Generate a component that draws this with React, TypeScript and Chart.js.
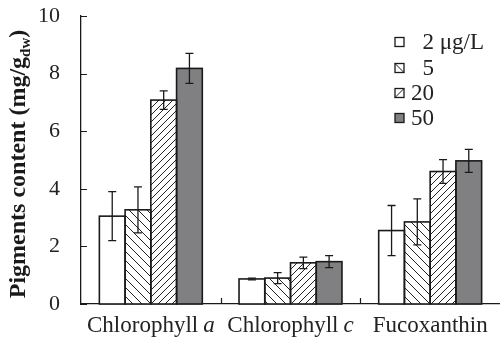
import React, { useEffect, useRef } from "react";
import { Chart, registerables } from "chart.js";

Chart.register(...registerables);

// ---------- data ----------
const categories = ["Chlorophyll a", "Chlorophyll c", "Fucoxanthin"];
const categoryBase = ["Chlorophyll", "Chlorophyll", "Fucoxanthin"];
const categoryItalic = ["a", "c", ""];
const seriesLabels = ["  2 μg/L", "  5", "20", "50"];
const values2 = [3.05, 0.87, 2.55];
const values5 = [3.27, 0.9, 2.85];
const values20 = [7.08, 1.43, 4.6];
const values50 = [8.18, 1.47, 4.97];
const err2 = [0.85, 0.03, 0.87];
const err5 = [0.8, 0.19, 0.8];
const err20 = [0.32, 0.2, 0.41];
const err50 = [0.52, 0.21, 0.4];
const yTicks = [0, 2, 4, 6, 8, 10];
const yTitleMain = "Pigments content (mg/g";
const yTitleSub = "dw";
const yTitleEnd = ")";

const errors = [err2, err5, err20, err50];
const SERIF = "'Liberation Serif', 'Times New Roman', serif";
const GRAY = "rgb(128,128,130)";
const INK = "#1a1a1a";

function makeHatch(size: number, dir: "back" | "fwd"): CanvasPattern | string {
  const c = document.createElement("canvas");
  c.width = size;
  c.height = size;
  const g = c.getContext("2d");
  if (!g) return "#fff";
  g.fillStyle = "#fff";
  g.fillRect(0, 0, size, size);
  g.strokeStyle = "#222";
  g.lineWidth = 1;
  g.beginPath();
  if (dir === "back") {
    g.moveTo(0, 0); g.lineTo(size, size);
    g.moveTo(-2, size - 2); g.lineTo(2, size + 2);
    g.moveTo(size - 2, -2); g.lineTo(size + 2, 2);
  } else {
    g.moveTo(0, size); g.lineTo(size, 0);
    g.moveTo(-2, 2); g.lineTo(2, -2);
    g.moveTo(size - 2, size + 2); g.lineTo(size + 2, size - 2);
  }
  g.stroke();
  const p = g.createPattern(c, "repeat");
  return p || "#fff";
}

const overlayPlugin = {
  id: "overlay",
  afterDatasetsDraw(chart: any) {
    const ctx = chart.ctx as CanvasRenderingContext2D;
    const yScale = chart.scales.y;
    ctx.save();
    chart.data.datasets.forEach((ds: any, di: number) => {
      const meta = chart.getDatasetMeta(di);
      meta.data.forEach((bar: any) => {
        const { x, y, base, width } = bar.getProps(["x", "y", "base", "width"], true);
        ctx.strokeStyle = INK;
        ctx.lineWidth = 1.6;
        ctx.strokeRect(x - width / 2, y, width, base - y);
      });
    });
    chart.data.datasets.forEach((ds: any, di: number) => {
      const meta = chart.getDatasetMeta(di);
      meta.data.forEach((bar: any, i: number) => {
        const { x } = bar.getProps(["x"], true);
        const v = ds.data[i];
        const e = errors[di][i];
        const yT = yScale.getPixelForValue(v + e);
        const yB = yScale.getPixelForValue(v - e);
        ctx.strokeStyle = INK;
        ctx.lineWidth = 1.3;
        ctx.beginPath();
        ctx.moveTo(x, yT); ctx.lineTo(x, yB);
        ctx.moveTo(x - 4, yT); ctx.lineTo(x + 4, yT);
        ctx.moveTo(x - 4, yB); ctx.lineTo(x + 4, yB);
        ctx.stroke();
      });
    });
    ctx.restore();
  },
  afterDraw(chart: any) {
    const ctx = chart.ctx as CanvasRenderingContext2D;
    const { left, bottom } = chart.chartArea;
    const xScale = chart.scales.x;
    const yScale = chart.scales.y;
    ctx.save();
    ctx.strokeStyle = INK;
    ctx.lineWidth = 1.2;
    ctx.beginPath();
    yTicks.forEach((t) => {
      const py = Math.round(yScale.getPixelForValue(t)) + 0.5;
      ctx.moveTo(left, py);
      ctx.lineTo(left + 6, py);
    });
    for (let i = 1; i < categories.length; i++) {
      const px = Math.round((xScale.getPixelForValue(i - 1) + xScale.getPixelForValue(i)) / 2) + 0.5;
      ctx.moveTo(px, bottom);
      ctx.lineTo(px, bottom - 6);
    }
    ctx.stroke();

    // x labels with italic parts
    ctx.fillStyle = "#222";
    ctx.textBaseline = "alphabetic";
    const FS = 23;
    categories.forEach((_, i) => {
      const cx = xScale.getPixelForValue(i);
      const baseTxt = categoryBase[i];
      const itTxt = categoryItalic[i];
      ctx.font = `${FS}px ${SERIF}`;
      const w1 = ctx.measureText(baseTxt).width;
      const gap = itTxt ? 5 : 0;
      ctx.font = `italic ${FS}px ${SERIF}`;
      const w2 = itTxt ? ctx.measureText(itTxt).width : 0;
      const total = w1 + gap + w2;
      const sx = cx - total / 2;
      const by = 332;
      ctx.font = `${FS}px ${SERIF}`;
      ctx.textAlign = "left";
      ctx.fillText(baseTxt, sx, by);
      if (itTxt) {
        ctx.font = `italic ${FS}px ${SERIF}`;
        ctx.fillText(itTxt, sx + w1 + gap, by);
      }
    });

    // y title
    ctx.save();
    ctx.translate(0, 164);
    ctx.rotate(-Math.PI / 2);
    const TM = 24, TS = 15;
    ctx.font = `bold ${TM}px ${SERIF}`;
    const wm = ctx.measureText(yTitleMain).width;
    const we = ctx.measureText(yTitleEnd).width;
    ctx.font = `bold ${TS}px ${SERIF}`;
    const ws = ctx.measureText(yTitleSub).width;
    const tot = wm + ws + we;
    let tx = -tot / 2;
    ctx.textAlign = "left";
    ctx.textBaseline = "alphabetic";
    ctx.fillStyle = "#1a1a1a";
    ctx.font = `bold ${TM}px ${SERIF}`;
    ctx.fillText(yTitleMain, tx, 25);
    tx += wm;
    ctx.font = `bold ${TS}px ${SERIF}`;
    ctx.fillText(yTitleSub, tx, 30);
    tx += ws;
    ctx.font = `bold ${TM}px ${SERIF}`;
    ctx.fillText(yTitleEnd, tx, 25);
    ctx.restore();

    // legend
    const rowsY = [42, 68, 93, 118];
    seriesLabels.forEach((lab, i) => {
      const cy = rowsY[i];
      const bx = 395, bw = 9;
      const by0 = cy - bw / 2;
      ctx.fillStyle = i === 3 ? GRAY : "#fff";
      ctx.fillRect(bx, by0, bw, bw);
      ctx.strokeStyle = INK;
      if (i === 1) {
        ctx.beginPath();
        ctx.moveTo(bx, by0); ctx.lineTo(bx + bw, by0 + bw);
        ctx.lineWidth = 1;
        ctx.stroke();
      } else if (i === 2) {
        ctx.beginPath();
        ctx.moveTo(bx, by0 + bw); ctx.lineTo(bx + bw, by0);
        ctx.lineWidth = 1;
        ctx.stroke();
      }
      ctx.lineWidth = 1.3;
      ctx.strokeRect(bx, by0, bw, bw);
      ctx.fillStyle = "#222";
      ctx.font = `23px ${SERIF}`;
      ctx.textAlign = "left";
      ctx.textBaseline = "middle";
      ctx.fillText(lab, 411, cy + 1);
    });
    ctx.restore();
  },
};

export default function App() {
  const ref = useRef<HTMLCanvasElement | null>(null);
  useEffect(() => {
    if (!ref.current) return;
    const hatchBack = makeHatch(9, "back");
    const hatchFwd = makeHatch(7, "fwd");
    const common = { borderWidth: 0, categoryPercentage: 0.737, barPercentage: 1.0 };
    const chart = new Chart(ref.current, {
      type: "bar",
      data: {
        labels: categories,
        datasets: [
          { label: seriesLabels[0], data: values2, backgroundColor: "#fff", ...common },
          { label: seriesLabels[1], data: values5, backgroundColor: hatchBack as any, ...common },
          { label: seriesLabels[2], data: values20, backgroundColor: hatchFwd as any, ...common },
          { label: seriesLabels[3], data: values50, backgroundColor: GRAY, ...common },
        ],
      },
      options: {
        responsive: false,
        animation: false,
        devicePixelRatio: 1,
        layout: { padding: { top: 16, right: 0, left: 0, bottom: 0 } },
        plugins: { legend: { display: false }, tooltip: { enabled: false }, title: { display: false } },
        scales: {
          x: {
            grid: { display: false, drawTicks: false },
            border: { display: true, color: INK, width: 1.3 },
            ticks: { display: false },
            afterFit: (s: any) => { s.height = 36; s.paddingLeft = 0; s.paddingRight = 0; },
          },
          y: {
            min: 0,
            max: 10,
            grid: { display: false, drawTicks: false },
            border: { display: true, color: INK, width: 1.3 },
            ticks: {
              stepSize: 2,
              padding: 21,
              color: "#222",
              font: { family: SERIF, size: 22 },
            },
            afterFit: (s: any) => { s.width = 81; s.paddingTop = 0; s.paddingBottom = 0; },
          },
        },
      },
      plugins: [overlayPlugin],
    });
    return () => chart.destroy();
  }, []);
  return (
    <div style={{ position: "fixed", left: 0, top: 0, width: 500, height: 340, background: "#fff", overflow: "hidden" }}>
      <canvas ref={ref} width={500} height={340} style={{ width: 500, height: 340, display: "block" }} />
    </div>
  );
}
